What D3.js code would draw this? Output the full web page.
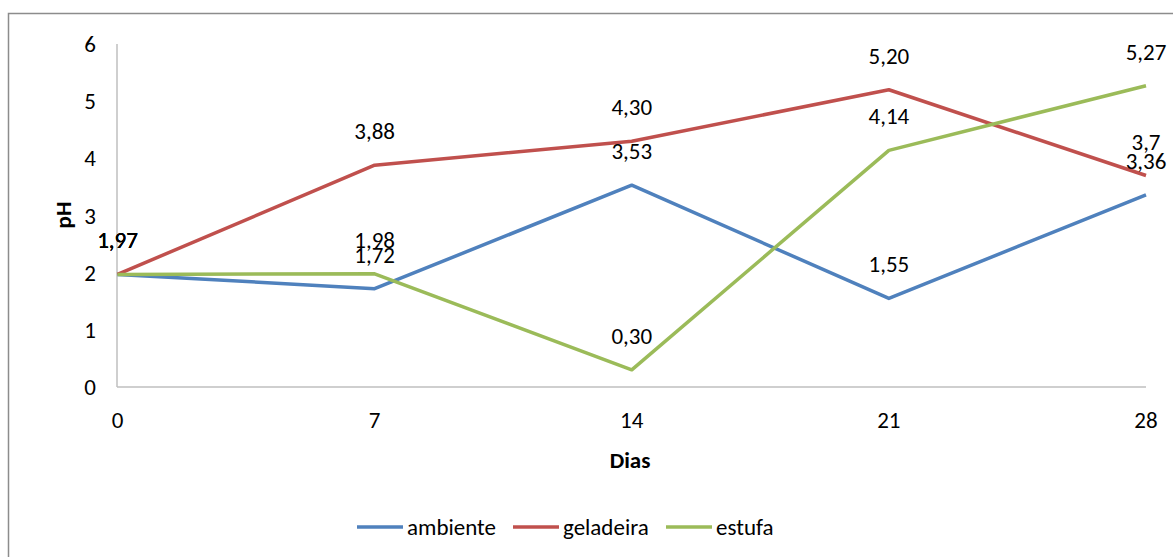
<!DOCTYPE html>
<html>
<head>
<meta charset="utf-8">
<script src="https://cdn.jsdelivr.net/npm/d3@7"></script>
<style>
  html, body { margin: 0; padding: 0; background: #fff; }
  svg { display: block; font-family: Carlito, "Open Sans", sans-serif; }
</style>
</head>
<body>
<svg id="chart" width="1173" height="557"></svg>
<script>
// Days of measurement (x categories)
const days = [0, 7, 14, 21, 28];
// pH per storage condition
const ambiente = [1.97, 1.72, 3.53, 1.55, 3.36];
const geladeira = [1.97, 3.88, 4.30, 5.20, 3.7];
const estufa = [1.97, 1.98, 0.30, 4.14, 5.27];
// Label text as printed next to each point
const ambienteLabels = ["1,97", "1,72", "3,53", "1,55", "3,36"];
const geladeiraLabels = ["1,97", "3,88", "4,30", "5,20", "3,7"];
const estufaLabels = ["1,97", "1,98", "0,30", "4,14", "5,27"];
const yTicks = [0, 1, 2, 3, 4, 5, 6];

const series = [
  { name: "ambiente", values: ambiente, labels: ambienteLabels, color: "#4F81BD" },
  { name: "geladeira", values: geladeira, labels: geladeiraLabels, color: "#C0504D" },
  { name: "estufa", values: estufa, labels: estufaLabels, color: "#9BBB59" }
];

const svg = d3.select("#chart");
const W = 1173, H = 557;

// outer chart frame
svg.append("rect")
  .attr("x", 8.5).attr("y", 13.5)
  .attr("width", W).attr("height", H)
  .attr("fill", "#fff").attr("stroke", "#8c8c8c").attr("stroke-width", 1.5);

const x = d3.scalePoint().domain(days).range([117.5, 1146]);
const y = d3.scaleLinear().domain([0, 6]).range([387, 44]);

const fs = 23;

// axis lines
svg.append("line")
  .attr("x1", 117).attr("x2", 117).attr("y1", y(6)).attr("y2", y(0))
  .attr("stroke", "#bfbfbf").attr("stroke-width", 1.5);
svg.append("line")
  .attr("x1", 117).attr("x2", 1146).attr("y1", y(0)).attr("y2", y(0))
  .attr("stroke", "#bfbfbf").attr("stroke-width", 1.5);

// y tick labels
svg.append("g").selectAll("text").data(yTicks).join("text")
  .attr("x", 96).attr("y", d => y(d))
  .attr("dy", "0.35em").attr("text-anchor", "end")
  .attr("font-size", fs).attr("fill", "#000")
  .text(d => d);

// x tick labels
svg.append("g").selectAll("text").data(days).join("text")
  .attr("x", d => x(d)).attr("y", 420)
  .attr("dy", "0.35em").attr("text-anchor", "middle")
  .attr("font-size", fs).attr("fill", "#000")
  .text(d => d);

// axis titles
svg.append("text")
  .attr("x", 630).attr("y", 460).attr("dy", "0.35em")
  .attr("text-anchor", "middle").attr("font-size", fs).attr("font-weight", "bold")
  .text("Dias");
svg.append("text")
  .attr("transform", "translate(63,215) rotate(-90)")
  .attr("dy", "0.35em")
  .attr("text-anchor", "middle").attr("font-size", fs).attr("font-weight", "bold")
  .text("pH");

// series lines
const line = d3.line().x((d, i) => x(days[i])).y(d => y(d));
svg.append("g").selectAll("path").data(series).join("path")
  .attr("d", s => line(s.values))
  .attr("fill", "none")
  .attr("stroke", s => s.color)
  .attr("stroke-width", 3.5)
  .attr("stroke-linejoin", "round");

// data labels above each point
series.forEach(s => {
  svg.append("g").selectAll("text").data(s.values).join("text")
    .attr("x", (d, i) => x(days[i]))
    .attr("y", d => y(d) - 34)
    .attr("dy", "0.35em").attr("text-anchor", "middle")
    .attr("font-size", fs).attr("fill", "#000")
    .text((d, i) => s.labels[i]);
});

// legend
const legendX = [357, 513, 666];
const legend = svg.append("g").selectAll("g").data(series).join("g")
  .attr("transform", (d, i) => `translate(${legendX[i]},527)`);
legend.append("line")
  .attr("x1", 0).attr("x2", 46).attr("y1", 0).attr("y2", 0)
  .attr("stroke", d => d.color).attr("stroke-width", 3.5);
legend.append("text")
  .attr("x", 50).attr("dy", "0.35em")
  .attr("font-size", fs).attr("fill", "#000")
  .text(d => d.name);
</script>
</body>
</html>
